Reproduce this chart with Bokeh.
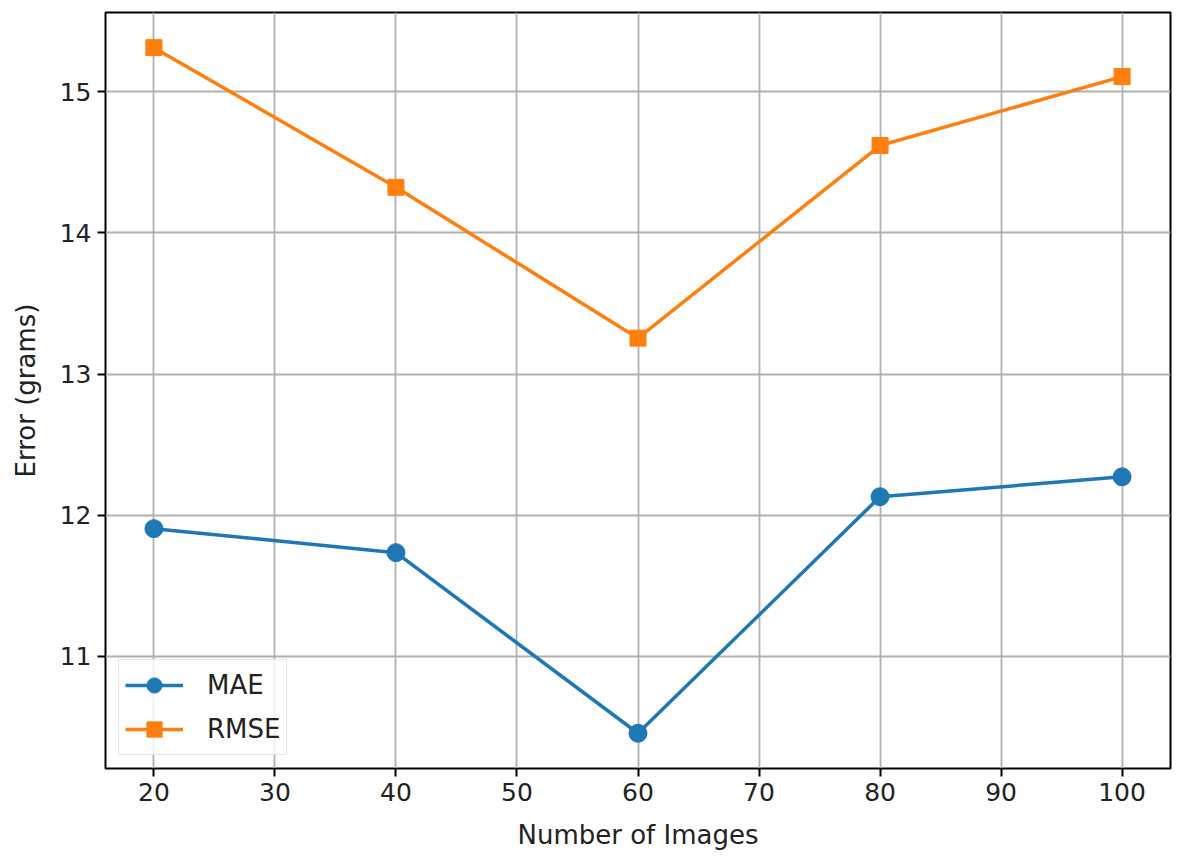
from bokeh.plotting import figure
from bokeh.models import FixedTicker, Legend, LegendItem, Range1d
from bokeh.embed import file_html
from bokeh.resources import INLINE

num_images = [20, 40, 60, 80, 100]
mae = [11.905, 11.735, 10.456, 12.131, 12.272]
rmse = [15.311, 14.322, 13.254, 14.618, 15.106]
x_ticks = [20, 30, 40, 50, 60, 70, 80, 90, 100]
y_ticks = [11, 12, 13, 14, 15]

FONT = "DejaVu Sans"
FS = "26px"

p = figure(output_backend="svg", toolbar_location=None,
           frame_width=1065, frame_height=756,
           min_border_left=105, min_border_right=12,
           min_border_top=12, min_border_bottom=95,
           x_range=Range1d(16, 104), y_range=Range1d(10.2065, 15.56))

p.outline_line_color = "black"
p.outline_line_width = 2
p.background_fill_color = "white"
p.border_fill_color = "white"

for ax in (p.xaxis[0], p.yaxis[0]):
    ax.axis_line_color = None
    ax.major_tick_in = 0
    ax.major_tick_out = 8
    ax.major_tick_line_width = 2
    ax.major_tick_line_color = "black"
    ax.minor_tick_line_color = None
    ax.major_label_text_font = FONT
    ax.major_label_text_font_size = "25px"
    ax.major_label_text_color = "#222222"
    ax.axis_label_text_font = FONT
    ax.axis_label_text_font_size = FS
    ax.axis_label_text_font_style = "normal"
    ax.axis_label_text_color = "#222222"

p.xaxis.ticker = FixedTicker(ticks=x_ticks)
p.yaxis.ticker = FixedTicker(ticks=y_ticks)
p.xaxis.axis_label = "Number of Images"
p.yaxis.axis_label = "Error (grams)"
p.xaxis.major_label_standoff = 6
p.yaxis.major_label_standoff = 6
p.xaxis.axis_label_standoff = 16
p.yaxis.axis_label_standoff = 16

p.xgrid.ticker = FixedTicker(ticks=x_ticks)
p.ygrid.ticker = FixedTicker(ticks=y_ticks)
p.grid.grid_line_color = "#b0b0b0"
p.grid.grid_line_width = 1.8

l1 = p.line(num_images, mae, line_color="#1f77b4", line_width=3.5)
s1 = p.scatter(num_images, mae, marker="circle", size=18, fill_color="#1f77b4", line_color="#1f77b4")
l2 = p.line(num_images, rmse, line_color="#ff7f0e", line_width=3.5)
s2 = p.scatter(num_images, rmse, marker="square", size=16, fill_color="#ff7f0e", line_color="#ff7f0e")

legend = Legend(items=[LegendItem(label="MAE", renderers=[l1, s1]),
                       LegendItem(label="RMSE", renderers=[l2, s2])],
                location=(13, 13))
legend.label_text_font = FONT
legend.label_text_font_size = FS
legend.label_text_color = "#222222"
legend.border_line_color = "#cccccc"
legend.border_line_width = 1.5
legend.background_fill_alpha = 0.8
legend.glyph_width = 58
legend.glyph_height = 38
legend.label_height = 38
legend.label_standoff = 24
legend.spacing = 6
legend.padding = 6
legend.margin = 0
p.add_layout(legend)

open("out.html", "w").write(file_html(p, INLINE))
